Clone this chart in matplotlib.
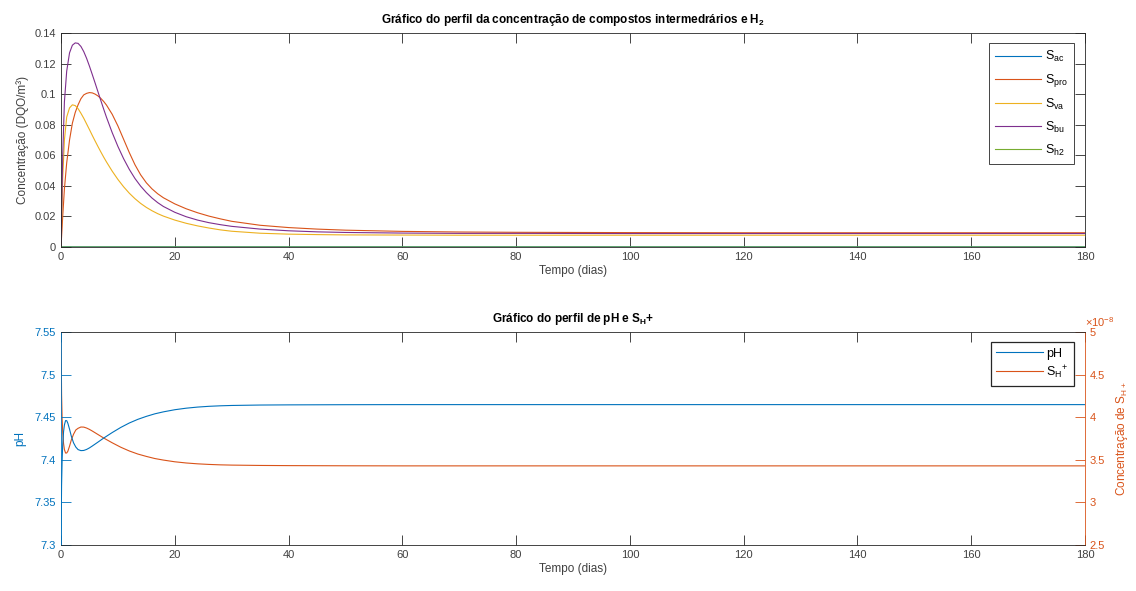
import numpy as np
import matplotlib
matplotlib.use('Agg')
import matplotlib.pyplot as plt
from matplotlib.ticker import FuncFormatter

plt.rcParams['font.family'] = ['Liberation Sans', 'DejaVu Sans']
plt.rcParams['mathtext.fontset'] = 'custom'
plt.rcParams['mathtext.rm'] = 'Liberation Sans'
plt.rcParams['mathtext.it'] = 'Liberation Sans'
plt.rcParams['mathtext.bf'] = 'Liberation Sans:bold'

# concentracoes dos intermediarios (DQO/m3)
t_conc = [0, 0.3, 0.6, 1, 1.5, 2, 2.5, 3, 3.5, 4, 4.5, 5, 5.5, 6, 6.5, 7, 7.5, 8, 9, 10,
          11, 12, 13, 14, 15, 16, 17, 18, 20, 22, 24, 26, 28, 30, 35, 40, 45, 50, 60,
          70, 80, 100, 120, 140, 160, 180]
s_ac = [0, 0.00005, 0.00008, 0.0001, 0.0001, 0.0001, 0.0001, 0.0001, 0.0001, 0.0001,
        0.0001, 0.0001, 0.0001, 0.0001, 0.0001, 0.0001, 0.0001, 0.0001, 0.0001, 0.0001,
        0.0001, 0.0001, 0.0001, 0.0001, 0.0001, 0.0001, 0.0001, 0.0001, 0.0001, 0.0001,
        0.0001, 0.0001, 0.0001, 0.0001, 0.0001, 0.0001, 0.0001, 0.0001, 0.0001, 0.0001,
        0.0001, 0.0001, 0.0001, 0.0001, 0.0001, 0.0001]
s_pro = [0, 0.02, 0.038, 0.055, 0.07, 0.081, 0.088, 0.093, 0.097, 0.0995, 0.1005,
         0.101, 0.1008, 0.1, 0.0988, 0.0972, 0.0952, 0.0928, 0.0868, 0.0792,
         0.0705, 0.0618, 0.0538, 0.0472, 0.0420, 0.0380, 0.0348, 0.0322, 0.0282, 0.0250,
         0.0224, 0.0202, 0.0184, 0.0168, 0.0142, 0.0127, 0.0117, 0.0110, 0.0102,
         0.0098, 0.0096, 0.0094, 0.0093, 0.0093, 0.0093, 0.0093]
s_va = [0, 0.045, 0.07, 0.085, 0.091, 0.093, 0.0925, 0.0905, 0.0875, 0.0842, 0.0805,
        0.0768, 0.0730, 0.0693, 0.0657, 0.0622, 0.0588, 0.0556, 0.0496, 0.0442,
        0.0394, 0.0352, 0.0316, 0.0285, 0.0259, 0.0237, 0.0218, 0.0202, 0.0176, 0.0155,
        0.0138, 0.0124, 0.0112, 0.0103, 0.0090, 0.0084, 0.0081, 0.0079, 0.0078,
        0.0077, 0.0077, 0.0077, 0.0077, 0.0077, 0.0077, 0.0077]
s_bu = [0, 0.06, 0.095, 0.115, 0.127, 0.132, 0.1335, 0.1332, 0.1312, 0.1278, 0.1234,
        0.1183, 0.1128, 0.1072, 0.1015, 0.0958, 0.0902, 0.0848, 0.0748, 0.0658,
        0.0578, 0.0508, 0.0448, 0.0398, 0.0356, 0.0320, 0.0290, 0.0265, 0.0227, 0.0198,
        0.0176, 0.0159, 0.0146, 0.0135, 0.0117, 0.0106, 0.0099, 0.0095, 0.0091,
        0.0089, 0.0089, 0.0088, 0.0088, 0.0088, 0.0088, 0.0088]
s_h2 = [0, 0.000001, 0.000001, 0.000001, 0.000001, 0.000001, 0.000001, 0.000001,
        0.000001, 0.000001, 0.000001, 0.000001, 0.000001, 0.000001, 0.000001, 0.000001,
        0.000001, 0.000001, 0.000001, 0.000001, 0.000001, 0.000001, 0.000001, 0.000001,
        0.000001, 0.000001, 0.000001, 0.000001, 0.000001, 0.000001, 0.000001, 0.000001,
        0.000001, 0.000001, 0.000001, 0.000001, 0.000001, 0.000001, 0.000001, 0.000001,
        0.000001, 0.000001, 0.000001, 0.000001, 0.000001, 0.000001]

# pH e concentracao de H+
t_ph = [0, 0.1, 0.2, 0.3, 0.45, 0.6, 0.8, 1.0, 1.2, 1.5, 1.8, 2.2, 2.6, 3.0, 3.5, 4.0,
        4.5, 5.0, 5.5, 6.5, 7.5, 9, 10.5, 12, 13.5, 15, 16.5, 18, 20, 22, 24, 26, 28,
        30, 35, 40, 50, 60, 80, 100, 120, 140, 160, 180]
ph = [7.30, 7.37, 7.40, 7.418, 7.433, 7.441, 7.446, 7.446, 7.443, 7.436, 7.428, 7.420,
      7.415, 7.412, 7.4108, 7.4110, 7.4122, 7.4140, 7.4162, 7.4208, 7.4255, 7.4320,
      7.4380, 7.4432, 7.4475, 7.4510, 7.4540, 7.4563, 7.4588, 7.4606, 7.4619, 7.4628,
      7.4634, 7.4638, 7.4643, 7.4645, 7.4647, 7.4648, 7.4648, 7.4648, 7.4648, 7.4648,
      7.4648, 7.4648]
s_h = [5.0, 4.27, 3.98, 3.82, 3.69, 3.62, 3.58, 3.58, 3.60, 3.66, 3.73, 3.80, 3.85,
       3.87, 3.885, 3.884, 3.873, 3.857, 3.838, 3.797, 3.756, 3.700, 3.648, 3.604,
       3.568, 3.540, 3.515, 3.497, 3.477, 3.463, 3.453, 3.446, 3.441, 3.438, 3.434,
       3.432, 3.430, 3.429, 3.429, 3.429, 3.429, 3.429, 3.429, 3.429]  # x 1e-8

cores = ['#0072BD', '#D95319', '#EDB120', '#7E2F8E', '#77AC30']
rotulos = [r'S$_{\mathrm{ac}}$', r'S$_{\mathrm{pro}}$', r'S$_{\mathrm{va}}$',
           r'S$_{\mathrm{bu}}$', r'S$_{\mathrm{h2}}$']
eixo_cor = '#262626'
texto_cor = '#404040'

fig = plt.figure(figsize=(11.36, 5.91), dpi=100)
fig.set_facecolor('white')
ax1 = fig.add_axes([0.0537, 0.5821, 0.9014, 0.3621])
ax2 = fig.add_axes([0.0537, 0.0778, 0.9014, 0.3604])


def estilo(ax):
    for s in ax.spines.values():
        s.set_color(eixo_cor)
        s.set_linewidth(0.6)
    ax.tick_params(direction='in', length=7, width=0.6, labelsize=8,
                   colors=eixo_cor, labelcolor=texto_cor)
    ax.set_xlim(0, 180)
    ax.set_xticks(np.arange(0, 181, 20))
    ax.set_xlabel('Tempo (dias)', fontsize=8.5, color=texto_cor, labelpad=2)


# --- concentracoes ---
for y, c, lab in zip([s_ac, s_pro, s_va, s_bu, s_h2], cores, rotulos):
    ax1.plot(t_conc, y, color=c, lw=0.8, label=lab)
estilo(ax1)
ax1.tick_params(top=True, right=True)
ax1.set_ylim(0, 0.14)
ax1.set_yticks(np.arange(0, 0.141, 0.02))
ax1.yaxis.set_major_formatter(FuncFormatter(lambda v, p: '%g' % round(v, 3)))
ax1.set_ylabel('Concentração (DQO/m³)', fontsize=8.5, color=texto_cor, labelpad=4)
ax1.set_title(r'Gráfico do perfil da concentração de compostos intermedrários e H$_{\mathbf{2}}$',
              fontsize=8.5, fontweight='bold', pad=7)
leg = ax1.legend(loc='upper right', bbox_to_anchor=(1 - 11 / 1024, 1 - 10 / 214),
                 borderaxespad=0, fontsize=9, fancybox=False, framealpha=1,
                 edgecolor=eixo_cor, handlelength=3.7, labelspacing=0.62,
                 handletextpad=0.3, borderpad=0.5)
leg.get_frame().set_linewidth(0.6)

# --- pH e H+ ---
ax2.plot(t_ph, ph, color='#0072BD', lw=0.8, label='pH')
estilo(ax2)
ax2.tick_params(axis='x', top=True)
ax2.set_ylim(7.3, 7.55)
ax2.set_yticks(np.arange(7.3, 7.551, 0.05))
ax2.yaxis.set_major_formatter(FuncFormatter(lambda v, p: '%g' % round(v, 2)))
ax2.tick_params(axis='y', colors='#0072BD', labelcolor='#0072BD')
ax2.spines['left'].set_color('#0072BD')
ax2.set_ylabel('pH', fontsize=8.5, color='#0072BD', labelpad=6)
ax2.set_title(r'Gráfico do perfil de pH e S$_{\mathbf{H}}$+', fontsize=8.5,
              fontweight='bold', pad=7)

ax3 = ax2.twinx()
h_line, = ax3.plot(t_ph, s_h, color='#D95319', lw=0.8)
ax3.set_ylim(2.5, 5)
ax3.set_yticks(np.arange(2.5, 5.01, 0.5))
ax3.yaxis.set_major_formatter(FuncFormatter(lambda v, p: '%g' % v))
ax3.text(1.0, 1.015, r'$\times$10$^{-8}$', transform=ax3.transAxes, ha='left',
         va='bottom', fontsize=8, color='#D95319')
for s in ax3.spines.values():
    s.set_visible(False)
ax2.spines['right'].set_color('#D95319')
ax3.tick_params(axis='y', direction='in', length=7, width=0.6, labelsize=8,
                colors='#D95319', labelcolor='#D95319')
ax3.set_ylabel(r'Concentração de S$_{\mathrm{H+}}$', fontsize=8.5, color='#D95319',
               labelpad=6)
ax2.tick_params(axis='y', right=False)

leg2 = ax2.legend([ax2.lines[0], h_line], ['pH', r'S$_{\mathrm{H}}$$^{+}$'],
                  loc='upper right', bbox_to_anchor=(1 - 11 / 1024, 1 - 10 / 213),
                  borderaxespad=0, fontsize=9, fancybox=False, framealpha=1,
                  edgecolor=eixo_cor, handlelength=3.7, labelspacing=0.3,
                  handletextpad=0.3, borderpad=0.45)
leg2.get_frame().set_linewidth(0.9)
ax2.set_zorder(ax3.get_zorder() + 1)
ax2.patch.set_visible(False)

fig.savefig('out.png', dpi=100, facecolor='white')
